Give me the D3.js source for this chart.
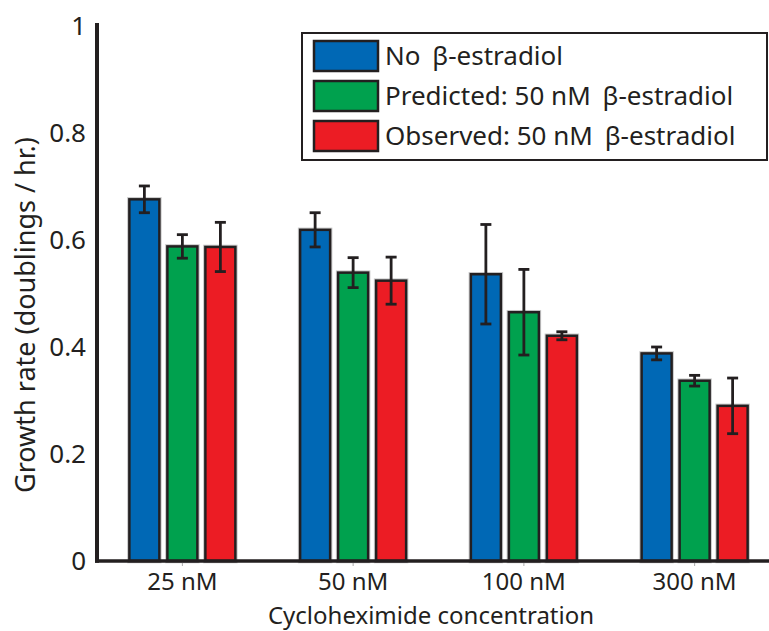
<!DOCTYPE html>
<html>
<head>
<meta charset="utf-8">
<script src="https://cdn.jsdelivr.net/npm/d3@7"></script>
<style>
  html, body { margin: 0; padding: 0; background: #fff; }
  svg { display: block; }
  text { font-family: "Noto Sans", "Open Sans", sans-serif; fill: #231f20; }
</style>
</head>
<body>
<svg id="chart" width="769" height="631"></svg>
<script>
// Cycloheximide concentrations (x categories)
const categories = ["25 nM", "50 nM", "100 nM", "300 nM"];
// Series names
const seriesNames = ["No β-estradiol", "Predicted: 50 nM β-estradiol", "Observed: 50 nM β-estradiol"];
const seriesColors = ["#0068b5", "#00a14e", "#ec1c24"];
// Growth rates (doublings / hr.) per series, one value per category
const noEstradiol = [0.676, 0.619, 0.536, 0.388];
const predicted   = [0.588, 0.539, 0.465, 0.337];
const observed    = [0.587, 0.524, 0.421, 0.290];
// Error bar half-widths
const noEstradiolErr = [0.025, 0.032, 0.093, 0.012];
const predictedErr   = [0.022, 0.028, 0.080, 0.010];
const observedErr    = [0.046, 0.044, 0.0075, 0.052];
// Y axis ticks
const yTicks = [0, 0.2, 0.4, 0.6, 0.8, 1];
const yTickLabels = ["0", "0.2", "0.4", "0.6", "0.8", "1"];

const values = [noEstradiol, predicted, observed];
const errors = [noEstradiolErr, predictedErr, observedErr];

const svg = d3.select("#chart");
const ink = "#231f20";
const fs = 26;
const fsX = 24;

const x = d3.scaleBand().domain(categories).range([97, 780]);
const xs = d3.scaleBand().domain(d3.range(3)).range([-53, 53]).paddingInner(8 / 38);
const y = d3.scaleLinear().domain([0, 1]).range([561, 26]);

// Bars
const rows = [];
categories.forEach((c, ci) => {
  values.forEach((vals, si) => {
    rows.push({ cat: c, s: si, v: vals[ci], e: errors[si][ci] });
  });
});

const barG = svg.append("g");
const cx = d => x(d.cat) + x.bandwidth() / 2;

// faint halo around each bar outline
barG.selectAll("rect.halo").data(rows).join("rect")
  .attr("class", "halo")
  .attr("x", d => cx(d) + xs(d.s))
  .attr("y", d => y(d.v))
  .attr("width", xs.bandwidth())
  .attr("height", d => y(0) - y(d.v))
  .attr("fill", "none")
  .attr("stroke", "#c8c8c8")
  .attr("stroke-width", 4.5);

barG.selectAll("rect.bar").data(rows).join("rect")
  .attr("class", "bar")
  .attr("x", d => cx(d) + xs(d.s))
  .attr("y", d => y(d.v))
  .attr("width", xs.bandwidth())
  .attr("height", d => y(0) - y(d.v))
  .attr("fill", d => seriesColors[d.s])
  .attr("stroke", ink)
  .attr("stroke-width", 2.5);

// Error bars
const errG = svg.append("g").attr("stroke", ink).attr("stroke-width", 2.8);
rows.forEach(d => {
  const mx = cx(d) + xs(d.s) + xs.bandwidth() / 2;
  errG.append("line").attr("x1", mx).attr("x2", mx).attr("y1", y(d.v + d.e)).attr("y2", y(d.v - d.e));
  errG.append("line").attr("x1", mx - 5.5).attr("x2", mx + 5.5).attr("y1", y(d.v + d.e)).attr("y2", y(d.v + d.e));
  errG.append("line").attr("x1", mx - 5.5).attr("x2", mx + 5.5).attr("y1", y(d.v - d.e)).attr("y2", y(d.v - d.e));
});

// X axis
const xAxis = d3.axisBottom(x).tickSize(5).tickSizeOuter(0);
const xg = svg.append("g").attr("transform", `translate(0,${y(0)})`).call(xAxis);
xg.select(".domain").remove();
xg.selectAll(".tick line").attr("stroke", "#aaa").attr("stroke-width", 1);
xg.selectAll(".tick text").attr("font-size", fsX).attr("fill", ink)
  .style("font-family", '"Noto Sans", sans-serif').attr("y", 29).attr("dy", 0);
svg.append("line").attr("x1", 95).attr("x2", 769).attr("y1", y(0)).attr("y2", y(0))
  .attr("stroke", ink).attr("stroke-width", 3.5);

// Y axis
const yAxis = d3.axisLeft(y).tickValues(yTicks).tickSize(0).tickPadding(11)
  .tickFormat((d, i) => yTickLabels[i]);
const yg = svg.append("g").attr("transform", "translate(97,0)").call(yAxis);
yg.select(".domain").remove();
yg.selectAll(".tick text").attr("font-size", fs).attr("fill", ink)
  .style("font-family", '"Noto Sans", sans-serif');
svg.append("line").attr("x1", 97).attr("x2", 97).attr("y1", 23).attr("y2", y(0) + 1.75)
  .attr("stroke", ink).attr("stroke-width", 4);

// Axis titles
svg.append("text").attr("x", 431).attr("y", 623.5).attr("text-anchor", "middle")
  .attr("font-size", fsX).text("Cycloheximide concentration");
svg.append("text").attr("transform", "translate(35,315) rotate(-90)").attr("text-anchor", "middle")
  .attr("font-size", 27).text("Growth rate (doublings / hr.)");

// Legend
const lg = svg.append("g");
lg.append("rect").attr("x", 302).attr("y", 33).attr("width", 465).attr("height", 127)
  .attr("fill", "#fff").attr("stroke", ink).attr("stroke-width", 2);
seriesNames.forEach((name, i) => {
  const ry = 41 + i * 40;
  lg.append("rect").attr("x", 314).attr("y", ry).attr("width", 64).attr("height", 30)
    .attr("fill", seriesColors[i]).attr("stroke", ink).attr("stroke-width", 2.5);
  const parts = name.split("β");
  const t = lg.append("text").attr("x", 385).attr("y", ry + 24).attr("font-size", fs);
  t.append("tspan").text(parts[0]);
  t.append("tspan").attr("dx", 5).text("β" + parts[1]);
});
</script>
</body>
</html>
